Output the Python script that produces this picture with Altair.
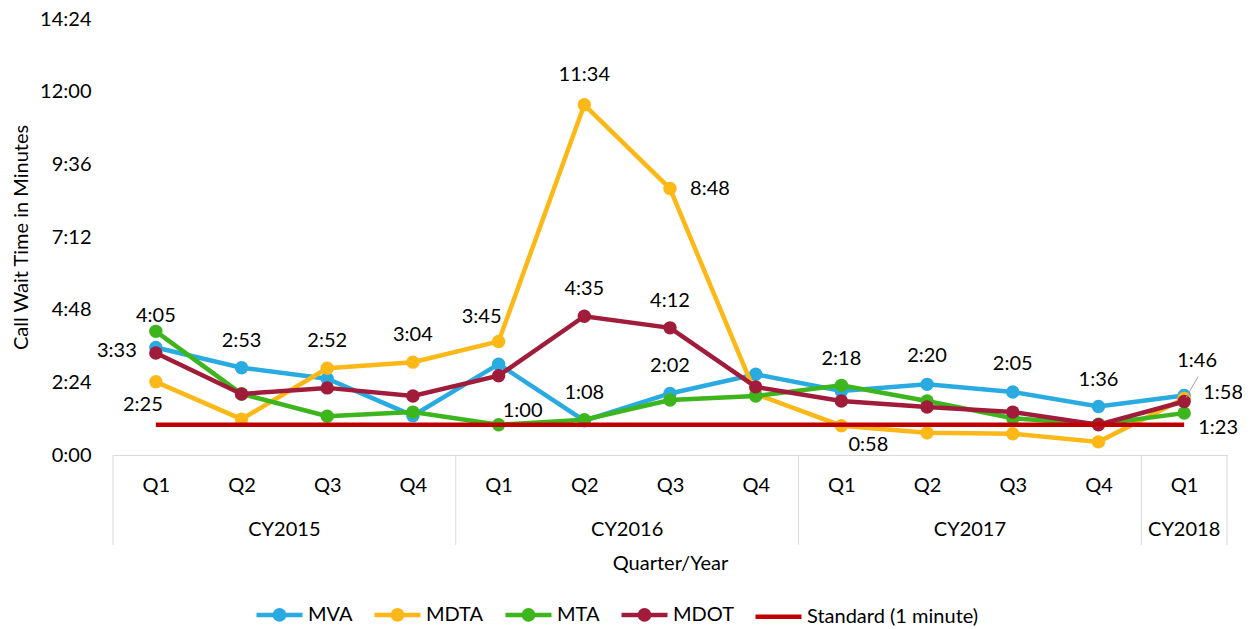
import altair as alt
import pandas as pd

# ---------------- data ----------------
quarters = ["Q1", "Q2", "Q3", "Q4", "Q1", "Q2", "Q3", "Q4", "Q1", "Q2", "Q3", "Q4", "Q1"]
years = ["CY2015", "CY2016", "CY2017", "CY2018"]
quarters_per_year = [4, 4, 4, 1]

series_names = ["MVA", "MDTA", "MTA", "MDOT"]
standard_name = "Standard (1 minute)"

# call wait times in seconds
mva = [213, 173, 151, 78, 180, 68, 122, 160, 127, 140, 125, 96, 118]
mdta = [145, 71, 172, 184, 225, 694, 528, 121, 58, 44, 42, 26, 112]
mta = [245, 121, 77, 85, 60, 70, 109, 117, 138, 107, 73, 61, 83]
mdot = [202, 121, 133, 117, 157, 275, 252, 135, 107, 95, 85, 60, 106]
standard = [60, 60, 60, 60, 60, 60, 60, 60, 60, 60, 60, 60, 60]

# data labels shown: (series, quarter index)
labeled = [("MTA", 0), ("MVA", 0), ("MDTA", 0), ("MVA", 1), ("MDTA", 2), ("MDTA", 3),
           ("MDTA", 4), ("MTA", 4), ("MDTA", 5), ("MDOT", 5), ("MVA", 5), ("MDTA", 6),
           ("MDOT", 6), ("MVA", 6), ("MTA", 8), ("MDTA", 8), ("MVA", 9), ("MVA", 10),
           ("MVA", 11), ("MDOT", 12), ("MVA", 12), ("MTA", 12)]

# ---------------- style ----------------
colors = ["#29ABE2", "#FBB817", "#3DB51C", "#A01C3A", "#C00000"]
label_offsets = [(0, -15), (-39, 3), (-13, 23), (0, -27), (0, -27), (0, -27),
                 (-17, -24), (24, -14), (0, -30), (0, -27), (0, -28), (40, 0),
                 (0, -27), (0, -27), (0, -26), (27, 19), (0, -28), (0, -28),
                 (0, -27), (13, -41), (39, -2), (34, 15)]
W, H = 1114, 436
FONT = "Lato"
FS = 20
GRID = "#D9D9D9"
circle_path = "M-1,0L1,0M0.2,0A0.2,0.2,0,1,1,-0.2,0A0.2,0.2,0,1,1,0.2,0Z"
line_path = "M-1,0L1,0"

values = {"MVA": mva, "MDTA": mdta, "MTA": mta, "MDOT": mdot}
all_names = series_names + [standard_name]
color_of = dict(zip(all_names, colors))


def mmss(s):
    return f"{s // 60}:{s % 60:02d}"


def series_df(name, vals):
    return pd.DataFrame({"idx": list(range(len(vals))), "value": vals, "series": name})


# year boundaries and centers
bounds = [-0.5]
centers = []
start = 0
for n in quarters_per_year:
    centers.append(start + (n - 1) / 2)
    start += n
    bounds.append(start - 0.5)
bound_df = pd.DataFrame({"idx": bounds})
year_df = pd.DataFrame({"idx": centers, "year": years})

q_expr = "[" + ",".join(f"'{q}'" for q in quarters) + "][datum.value]"
y_expr = ("floor(datum.value/60) + ':' + (datum.value % 60 < 10 ? '0' : '') + (datum.value % 60)")

xscale = alt.Scale(domain=[-0.5, len(quarters) - 0.5], nice=False, zero=False)
yscale = alt.Scale(domain=[0, 864], nice=False)

xaxis = alt.Axis(values=list(range(len(quarters))), labelExpr=q_expr, ticks=False, grid=False,
                 domainColor=GRID, domainWidth=1, labelPadding=20, labelFontSize=FS,
                 labelColor="black", labelAngle=0, labelFlush=False,
                 title="Quarter/Year", titleFontSize=FS, titleFontWeight="normal",
                 titleColor="black", titlePadding=58)
yaxis = alt.Axis(values=[0, 144, 288, 432, 576, 720, 864], labelExpr=y_expr, domain=False,
                 ticks=False, grid=False, labelPadding=22, labelFontSize=FS,
                 labelColor="black", labelFlush=False,
                 title="Call Wait Time in Minutes", titleFontSize=FS,
                 titleFontWeight="normal", titleColor="black", titlePadding=8)

X = alt.X("idx:Q", scale=xscale, axis=xaxis)
Y = alt.Y("value:Q", scale=yscale, axis=yaxis)

legend = alt.Legend(
    title=None, orient="none", legendX=141, legendY=570, direction="horizontal",
    symbolSize=2116, symbolStrokeWidth=4.5, symbolOpacity=1,
    symbolFillColor="black", symbolStrokeColor="black",
    labelFontSize=FS, labelColor="black", labelFont=FONT, labelOffset=3, labelLimit=400,
    columnPadding=12,
)

layers = []
layers.append(alt.Chart(bound_df).mark_rule(color=GRID, strokeWidth=1).encode(
    x=X, y=alt.value(H), y2=alt.value(H + 90)))

for s in series_names:
    d = series_df(s, values[s])
    layers.append(alt.Chart(d).mark_line(strokeWidth=4.5, color=color_of[s]).encode(x=X, y=Y))
    layers.append(alt.Chart(d).mark_point(filled=True, size=180, opacity=1,
                                          color=color_of[s]).encode(x=X, y=Y))

layers.append(alt.Chart(series_df(standard_name, standard)).mark_line(
    strokeWidth=4.5, color=color_of[standard_name]).encode(x=X, y=Y))

# data labels, one text layer per offset
groups = {}
for (s, i), off in zip(labeled, label_offsets):
    groups.setdefault(off, []).append((s, i))
for (dx, dy), items in groups.items():
    rows = [{"idx": i, "value": values[s][i], "label": mmss(values[s][i])} for s, i in items]
    layers.append(alt.Chart(pd.DataFrame(rows)).mark_text(
        fontSize=FS, font=FONT, color="black", baseline="middle", align="center",
        dx=dx, dy=dy).encode(x=X, y=Y, text="label:N"))

lead = pd.DataFrame([{"idx": 12, "value": mdot[12]}])
layers.append(alt.Chart(lead).mark_rule(color="#A6A6A6", strokeWidth=1, xOffset=2, yOffset=-4,
                                        x2Offset=14, y2Offset=-25).encode(
    x=X, y=Y, x2="idx:Q", y2="value:Q"))

layers.append(alt.Chart(year_df).mark_text(fontSize=FS, font=FONT, color="black",
                                           baseline="middle").encode(
    x=X, y=alt.value(H + 75), text="year:N"))

# legend-carrying layer: invisible marks, combined fill / stroke / shape legend
cscale = alt.Scale(domain=all_names, range=colors)
legend_df = pd.DataFrame({"series": all_names})
layers.append(alt.Chart(legend_df).mark_point(size=2116, strokeWidth=4.5).encode(
    x=alt.value(0), y=alt.value(0), opacity=alt.value(0),
    fill=alt.Fill("series:N", scale=cscale, legend=legend),
    stroke=alt.Stroke("series:N", scale=cscale, legend=legend),
    shape=alt.Shape("series:N", scale=alt.Scale(
        domain=all_names, range=[circle_path] * len(series_names) + [line_path]), legend=legend),
))

chart = alt.layer(*layers).properties(
    width=W, height=H,
    autosize=alt.AutoSizeParams(type="none"),
    padding={"left": 105, "top": 11, "right": 15, "bottom": 176},
    background="white",
).configure(font=FONT).configure_view(stroke=None)

chart.save("out.html", embed_options={"renderer": "svg", "actions": False})
